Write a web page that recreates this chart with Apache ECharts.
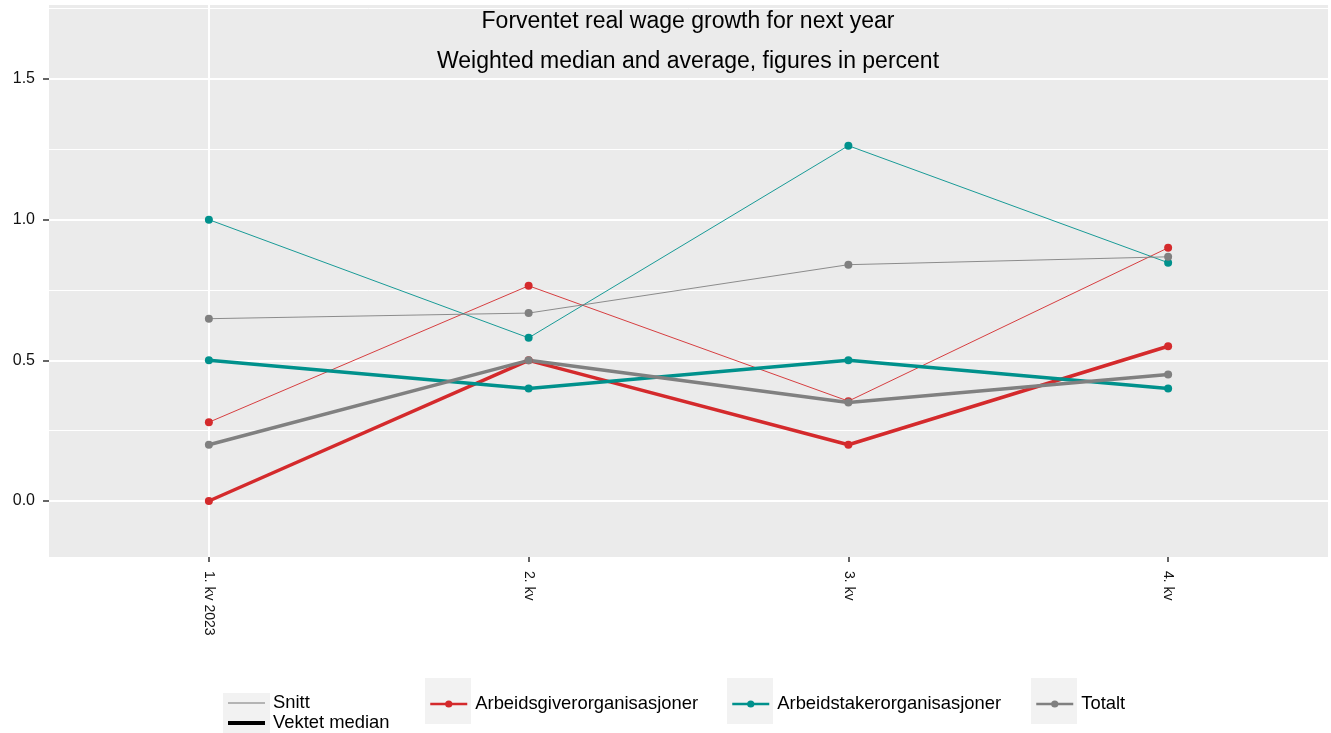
<!DOCTYPE html>
<html>
<head>
<meta charset="utf-8">
<script src="https://cdn.jsdelivr.net/npm/echarts@6/dist/echarts.min.js"></script>
<style>
html,body{margin:0;padding:0;background:#fff;}
#chart{width:1331px;height:733px;}
</style>
</head>
<body>
<div id="chart"></div>
<script>
const categories = ['1. kv 2023', '2. kv', '3. kv', '4. kv'];
const groups = ['Arbeidsgiverorganisasjoner', 'Arbeidstakerorganisasjoner', 'Totalt'];
const snittGiver = [0.28, 0.765, 0.355, 0.90];
const snittTaker = [1.0, 0.58, 1.263, 0.847];
const snittTotal = [0.648, 0.668, 0.84, 0.868];
const medianGiver = [0.0, 0.5, 0.2, 0.55];
const medianTaker = [0.5, 0.4, 0.5, 0.4];
const medianTotal = [0.2, 0.5, 0.35, 0.45];
const yTickValues = [0, 0.5, 1.0, 1.5];
const yMinorValues = [0.25, 0.75, 1.25, 1.75];
const titleLines = ['Forventet real wage growth for next year', 'Weighted median and average, figures in percent'];
const lineTypeNames = ['Snitt', 'Vektet median'];

const colors = ['#D42A2C', '#00918C', '#808080'];
const snitt = [snittGiver, snittTaker, snittTotal];
const median = [medianGiver, medianTaker, medianTotal];
const FONT = 'Liberation Sans, Arial, sans-serif';

const chart = echarts.init(document.getElementById('chart'));

const series = [];
series.push({
  type: 'line', name: '_grid', data: [], z: 0, silent: true,
  markLine: {
    silent: true, z: 0, symbol: ['none', 'none'], label: {show: false}, animation: false,
    emphasis: {disabled: true},
    data: [
      ...yTickValues.map(v => ({yAxis: v, lineStyle: {color: '#fff', width: 2, type: 'solid'}})),
      ...yMinorValues.map(v => ({yAxis: v, lineStyle: {color: '#fff', width: 1, type: 'solid'}})),
      {xAxis: categories[0], lineStyle: {color: '#fff', width: 2, type: 'solid'}}
    ]
  }
});
groups.forEach((g, i) => {
  series.push({
    type: 'line', name: g + ' snitt', data: snitt[i], z: 3,
    symbol: 'circle', symbolSize: 8, color: colors[i],
    lineStyle: {width: 0.9, color: colors[i]}, itemStyle: {color: colors[i]}
  });
});
groups.forEach((g, i) => {
  series.push({
    type: 'line', name: g, data: median[i], z: 4,
    symbol: 'circle', symbolSize: 8, color: colors[i],
    lineStyle: {width: 3.5, color: colors[i]}, itemStyle: {color: colors[i]}
  });
});
series.push({type: 'line', name: lineTypeNames[0], data: [], symbol: 'none', color: '#777', lineStyle: {width: 1, color: '#777'}});
series.push({type: 'line', name: lineTypeNames[1], data: [], symbol: 'none', color: '#000', lineStyle: {width: 4, color: '#000'}});

const legendText = {fontSize: 18.4, color: '#000', fontFamily: FONT, padding: [0, 0, 0, 3]};
const groupLegendLeft = [429, 731, 1035];

const option = {
  animation: false,
  textStyle: {fontFamily: FONT},
  grid: {left: 49, right: 3, top: 5, bottom: 176, show: true, backgroundColor: '#EBEBEB', borderWidth: 0},
  xAxis: {
    type: 'category', data: categories, boundaryGap: true,
    axisLine: {show: false, onZero: false},
    axisTick: {show: true, alignWithLabel: true, length: 5, lineStyle: {color: '#333', width: 1.5}},
    axisLabel: {rotate: -90, fontSize: 14, color: '#111', margin: 14},
    splitLine: {show: false}
  },
  yAxis: {
    type: 'value', min: -0.199, max: 1.763,
    axisLine: {show: false},
    axisTick: {show: true, length: 6, lineStyle: {color: '#333', width: 1.5}, customValues: yTickValues},
    axisLabel: {fontSize: 16, color: '#111', margin: 14, customValues: yTickValues, formatter: v => v.toFixed(1)},
    splitLine: {show: false}
  },
  legend: [
    {
      data: [lineTypeNames[0]], icon: 'rect', left: 228, top: 693, itemWidth: 37, itemHeight: 1.2,
      textStyle: Object.assign({lineHeight: 20}, legendText), selectedMode: false, padding: 0
    },
    {
      data: [lineTypeNames[1]], icon: 'rect', left: 228, top: 713, itemWidth: 37, itemHeight: 4,
      textStyle: Object.assign({lineHeight: 20}, legendText), selectedMode: false, padding: 0
    },
    ...groups.map((g, i) => ({
      data: [{name: g, lineStyle: {width: 2.5}}], left: groupLegendLeft[i], top: 695,
      itemWidth: 37, itemHeight: 9, textStyle: legendText, selectedMode: false, padding: 0
    }))
  ],
  graphic: [
    {type: 'rect', left: 223, top: 693, shape: {width: 47, height: 40}, style: {fill: '#F2F2F2'}, z: -1},
    {type: 'rect', left: 425, top: 678, shape: {width: 46, height: 46}, style: {fill: '#F2F2F2'}, z: -1},
    {type: 'rect', left: 727, top: 678, shape: {width: 46, height: 46}, style: {fill: '#F2F2F2'}, z: -1},
    {type: 'rect', left: 1031, top: 678, shape: {width: 46, height: 46}, style: {fill: '#F2F2F2'}, z: -1},
    {type: 'text', x: 688, y: 22, z: 10, style: {text: titleLines[0], fontSize: 23, fill: '#000', align: 'center', verticalAlign: 'middle', fontFamily: FONT}},
    {type: 'text', x: 688, y: 62, z: 10, style: {text: titleLines[1], fontSize: 23, fill: '#000', align: 'center', verticalAlign: 'middle', fontFamily: FONT}}
  ],
  series: series
};
chart.setOption(option);
</script>
</body>
</html>
